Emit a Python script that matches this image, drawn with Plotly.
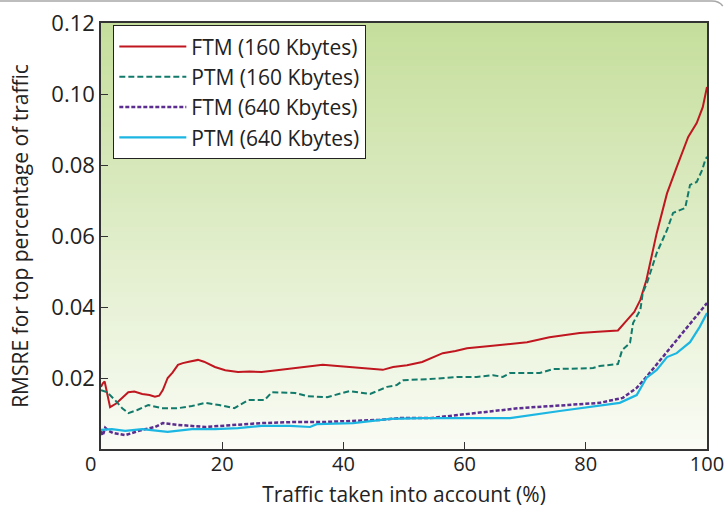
import plotly.graph_objects as go

# ---- data ----
ftm160_x = [0, 0.3, 0.6, 1.0, 1.5, 2.5, 3.5, 4.5, 5.5, 6.8, 8.0, 8.9, 9.6, 10.2, 11.0, 11.8, 12.7, 13.5, 14.5, 15.5, 16.0, 17.0, 18.8, 20.5, 22.6, 24.5, 26.5, 29.0, 32.0, 34.5, 36.6, 39.0, 41.0, 44.0, 46.5, 48.2, 50.5, 53.0, 56.4, 58.5, 60.4, 64.2, 67.0, 70.3, 74.0, 79.0, 82.0, 85.3, 86.8, 88.0, 89.0, 90.0, 91.7, 93.4, 95.0, 96.9, 98.3, 99.3, 100]
ftm160_y = [0.0175, 0.0185, 0.0190, 0.0160, 0.0118, 0.0128, 0.0145, 0.0160, 0.0162, 0.0155, 0.0152, 0.0147, 0.0150, 0.0166, 0.0200, 0.0215, 0.0237, 0.0242, 0.0246, 0.0248, 0.0251, 0.0246, 0.0231, 0.0222, 0.0217, 0.0218, 0.0217, 0.0222, 0.0228, 0.0233, 0.0237, 0.0234, 0.0231, 0.0228, 0.0223, 0.0231, 0.0236, 0.0245, 0.0270, 0.0276, 0.0284, 0.0290, 0.0296, 0.0301, 0.0315, 0.0327, 0.0330, 0.0334, 0.0363, 0.0386, 0.0420, 0.0476, 0.0608, 0.0720, 0.0794, 0.0879, 0.0918, 0.0963, 0.1020]

ptm160_x = [0, 1.0, 2.3, 3.5, 4.5, 6.0, 7.8, 10.0, 12.7, 15.0, 17.2, 19.5, 22.0, 24.3, 27.0, 28.2, 32.0, 34.0, 37.3, 41.0, 44.4, 47.2, 48.8, 49.9, 54.3, 58.7, 62.0, 64.7, 66.3, 67.5, 72.4, 74.6, 81.2, 82.3, 85.3, 86.0, 87.3, 87.8, 89.0, 89.4, 90.1, 91.7, 93.4, 94.4, 96.4, 97.2, 98.3, 99.2, 99.7, 100]
ptm160_y = [0.0166, 0.0160, 0.0138, 0.0115, 0.0101, 0.0110, 0.0124, 0.0115, 0.0115, 0.0121, 0.0130, 0.0124, 0.0115, 0.0138, 0.0138, 0.0160, 0.0158, 0.0149, 0.0146, 0.0163, 0.0155, 0.0175, 0.0180, 0.0194, 0.0197, 0.0203, 0.0203, 0.0208, 0.0203, 0.0214, 0.0214, 0.0225, 0.0228, 0.0234, 0.0239, 0.0279, 0.0299, 0.0355, 0.0392, 0.0440, 0.0468, 0.0552, 0.0617, 0.0665, 0.0679, 0.0744, 0.0752, 0.0786, 0.0814, 0.0823]

ftm640_x = [0, 0.3, 0.7, 1.2, 2.0, 4.0, 6.8, 8.9, 10.2, 12.7, 17.2, 22.0, 26.5, 32.0, 36.6, 46.0, 49.3, 54.3, 58.7, 62.0, 67.5, 69.0, 77.0, 82.3, 86.1, 88.4, 90.0, 92.7, 95.5, 97.7, 100]
ftm640_y = [0.0050, 0.0038, 0.0060, 0.0052, 0.0045, 0.0039, 0.0054, 0.0062, 0.0073, 0.0068, 0.0062, 0.0068, 0.0073, 0.0076, 0.0076, 0.0082, 0.0087, 0.0087, 0.0096, 0.0101, 0.0113, 0.0115, 0.0124, 0.0130, 0.0144, 0.0172, 0.0203, 0.0259, 0.0315, 0.0363, 0.0411]

ptm640_x = [0, 1.8, 4.0, 6.8, 11.0, 15.0, 18.8, 22.6, 26.5, 31.2, 34.5, 35.6, 41.6, 47.7, 53.0, 59.7, 67.5, 75.7, 81.8, 85.6, 88.4, 90.0, 91.7, 93.4, 95.0, 97.2, 98.8, 100]
ptm640_y = [0.0054, 0.0056, 0.0051, 0.0056, 0.0048, 0.0056, 0.0056, 0.0059, 0.0065, 0.0065, 0.0062, 0.0070, 0.0073, 0.0085, 0.0087, 0.0087, 0.0087, 0.0107, 0.0121, 0.0130, 0.0152, 0.0200, 0.0223, 0.0259, 0.0270, 0.0301, 0.0344, 0.0383]

series_names = ["FTM (160 Kbytes)", "PTM (160 Kbytes)", "FTM (640 Kbytes)", "PTM (640 Kbytes)"]
x_ticks = [0, 20, 40, 60, 80, 100]
x_ticktext = ["0\u00a0\u00a0\u00a0\u00a0", "20", "40", "60", "80", "100"]
y_ticks = [0.02, 0.04, 0.06, 0.08, 0.10, 0.12]

FONT = "Open Sans"

fig = go.Figure()
styles = [
    dict(color="#c0161f", width=2, dash="solid"),
    dict(color="#127a6a", width=2, dash="6px,3px"),
    dict(color="#5b2d8e", width=2.5, dash="4px,2px"),
    dict(color="#1cb6e2", width=2.2, dash="solid"),
]
for xs, ys, name, st in zip([ftm160_x, ptm160_x, ftm640_x, ptm640_x],
                            [ftm160_y, ptm160_y, ftm640_y, ptm640_y],
                            series_names, styles):
    fig.add_trace(go.Scatter(x=xs, y=ys, name=name, mode="lines",
                             line=dict(shape="linear", **st)))

# gradient background (strips)
shapes = []
N = 90
top = (197, 222, 156)
bot = (250, 252, 245)
for i in range(N):
    t = i / N
    r = round(bot[0] + (top[0] - bot[0]) * (t + 0.5 / N))
    g = round(bot[1] + (top[1] - bot[1]) * (t + 0.5 / N))
    b = round(bot[2] + (top[2] - bot[2]) * (t + 0.5 / N))
    shapes.append(dict(type="rect", xref="x domain", yref="y domain",
                       x0=0, x1=1, y0=t, y1=(i + 1) / N + 0.002,
                       fillcolor=f"rgb({r},{g},{b})", line=dict(width=0),
                       layer="below"))
# outer frame line at top of the page
shapes.append(dict(type="path", xref="paper", yref="paper",
                   path="M -0.17,1.0516 L 1.008,1.0516 Q 1.02,1.0516 1.026,1.040",
                   line=dict(color="#a8a8a8", width=1.5)))

fig.update_layout(
    width=724, height=508,
    margin=dict(l=101, r=17, t=23, b=59, autoexpand=False),
    paper_bgcolor="white",
    plot_bgcolor="white",
    font=dict(family=FONT, color="#222", size=21),
    shapes=shapes,
    showlegend=True,
    legend=dict(x=0.02, y=0.995, xanchor="left", yanchor="top",
                bgcolor="white", bordercolor="#222", borderwidth=1.2,
                font=dict(family=FONT, size=21, color="#222"),
                itemwidth=67, tracegroupgap=0),
)
fig.update_xaxes(range=[0, 100], tickvals=x_ticks, ticktext=x_ticktext,
                 ticks="inside", ticklen=7, tickcolor="#333", tickwidth=1.2,
                 showline=True, linecolor="#333", linewidth=1.5, mirror=True,
                 showgrid=False, zeroline=False, automargin=False,
                 ticklabeloverflow="allow", ticklabelstandoff=-4,
                 tickfont=dict(size=20, family=FONT, color="#222"),
                 title=dict(text="Traffic taken into account (%)", standoff=13,
                            font=dict(size=21, family=FONT, color="#222")))
fig.update_yaxes(range=[0, 0.12], tickvals=y_ticks, ticktext=[f"{v:.2f}" for v in y_ticks],
                 ticks="inside", ticklen=7, tickcolor="#333", tickwidth=1.2,
                 showline=True, linecolor="#333", linewidth=1.5, mirror=True,
                 showgrid=False, zeroline=False, automargin=False,
                 ticklabeloverflow="allow",
                 tickfont=dict(size=22, family=FONT, color="#222"),
                 title=dict(text="RMSRE for top percentage of traffic", standoff=17,
                            font=dict(size=21, family=FONT, color="#222")))

fig.write_html("out.html", config={"displayModeBar": False},
               post_script="document.body.style.margin='0';document.body.style.overflow='hidden';")
